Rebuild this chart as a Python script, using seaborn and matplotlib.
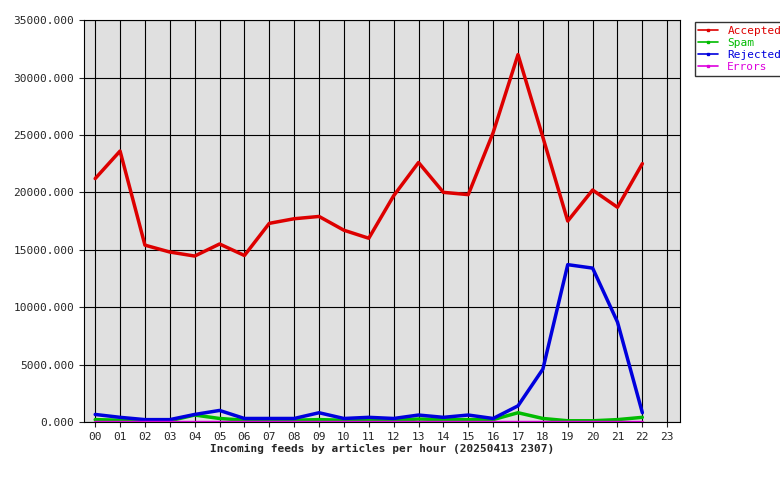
import matplotlib
matplotlib.use('Agg')
import matplotlib.pyplot as plt
import pandas as pd
import seaborn as sns

hours = ['00', '01', '02', '03', '04', '05', '06', '07', '08', '09', '10', '11',
         '12', '13', '14', '15', '16', '17', '18', '19', '20', '21', '22']
accepted = [21200, 23600, 15400, 14800, 14450, 15500, 14500, 17300, 17700, 17900, 16700, 16000,
            19700, 22600, 20000, 19800, 25200, 32000, 24800, 17500, 20200, 18700, 22500]
spam = [200, 150, 100, 100, 600, 300, 150, 150, 150, 200, 150, 150,
        150, 250, 200, 200, 200, 800, 300, 100, 100, 200, 400]
rejected = [650, 400, 200, 200, 650, 1000, 300, 300, 300, 800, 300, 400,
            300, 600, 400, 600, 300, 1400, 4600, 13700, 13400, 8700, 800]
errors = [20] * 23

df = pd.DataFrame({'hour': list(range(len(hours))) * 4,
                   'value': accepted + spam + rejected + errors,
                   'series': ['Accepted'] * 23 + ['Spam'] * 23 + ['Rejected'] * 23 + ['Errors'] * 23})

sns.set_style('ticks')
plt.rcParams['font.family'] = ['DejaVu Sans Mono']

fig = plt.figure(figsize=(7.8, 4.8), dpi=100)
ax = fig.add_axes([0.1077, 0.121, 0.7643, 0.837])
ax.set_facecolor('#e0e0e0')
palette = {'Accepted': '#dd0000', 'Spam': '#00bb00', 'Rejected': '#0000dd', 'Errors': '#dd00dd'}
sns.lineplot(data=df, x='hour', y='value', hue='series', palette=palette, ax=ax,
             linewidth=2.5, legend=False)

ax.set_xlim(-0.45, 23.52)
ax.set_ylim(0, 35000)
ax.set_xticks(range(24))
ax.set_xticklabels(hours + ['23'], fontsize=8)
ax.set_yticks(range(0, 35001, 5000))
ax.set_yticklabels(['%d.000' % v for v in range(0, 35001, 5000)], fontsize=8)
ax.grid(True, color='black', linewidth=0.8)
ax.set_axisbelow(True)
for s in ax.spines.values():
    s.set_color('black')
ax.set_xlabel('Incoming feeds by articles per hour (20250413 2307)', fontsize=8,
              fontweight='bold', labelpad=2)
ax.set_ylabel('')

handles = [plt.Line2D([], [], color=palette[k], marker='s', markersize=2, linewidth=1.2)
           for k in palette]
fig.legend(handles, list(palette), loc='upper left', bbox_to_anchor=(0.884, 0.965),
           fontsize=8, frameon=True, fancybox=False, edgecolor='black', labelcolor=list(palette.values()),
           handlelength=1.8, borderpad=0.3, labelspacing=0.2)

fig.savefig('out.png', dpi=100)
